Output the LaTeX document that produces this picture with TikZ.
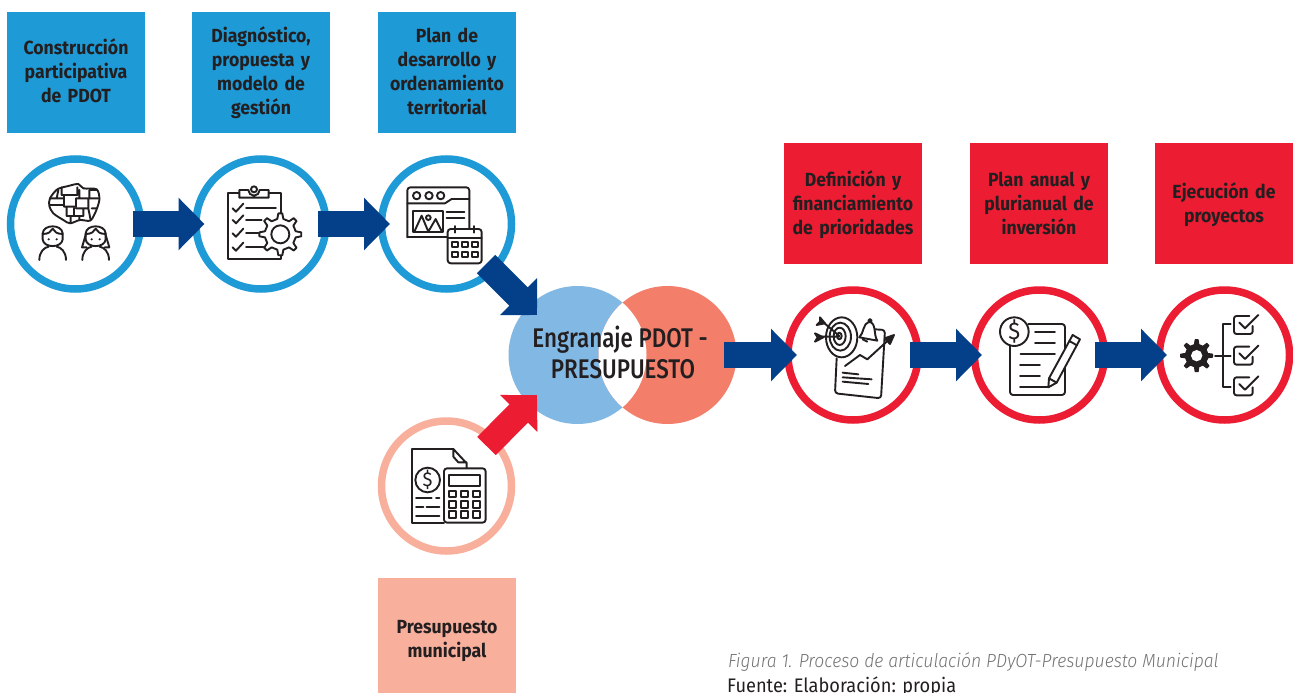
\documentclass[tikz,border=0pt]{standalone}
\usepackage{fontspec}
\setmainfont[FakeStretch=0.93]{Fira Sans}
\newfontfamily\capfont[FakeStretch=0.925]{Fira Sans Light}
\newfontfamily\medfont[FakeStretch=0.83]{Fira Sans Medium}
\usetikzlibrary{arrows.meta}
\definecolor{cblue}{HTML}{1E9AD6}
\definecolor{cred}{HTML}{EC1C33}
\definecolor{csalmon}{HTML}{F8B09C}
\definecolor{cnavy}{HTML}{04408A}
\definecolor{vblue}{HTML}{82B8E4}
\definecolor{vsalm}{HTML}{F37F6A}
\definecolor{ink}{HTML}{231F20}
\newcommand{\tb}[1]{\rule{0pt}{20pt}#1\rule[-7pt]{0pt}{7pt}}
\tikzset{
  titlebox/.style={minimum width=138pt,minimum height=121pt,inner sep=0pt,align=center,text=ink,text width=134pt,font=\fontsize{19}{24}\selectfont\bfseries},
  ring/.style={circle,draw=#1,line width=7.5pt,fill=white,minimum size=130pt,inner sep=0pt},
  venn/.style={circle,fill=#1,minimum size=138pt,inner sep=0pt},
  bigarrow/.style={draw=#1,line width=26pt,-{Triangle[length=26pt,width=51pt,fill=#1]}},
  ic/.style={draw=ink,line width=1.9pt,line join=round,line cap=round},
  icw/.style={ic,fill=white},
  zoomed/.style={x=0.33333pt,y=-0.33333pt},
}
\newcommand{\geargl}[6]{%
  \begin{scope}[shift={(#1,#2)}]
    \path[#6] ({-0.25*360/#5}:#4)
    \foreach \k in {1,...,#5}{
      -- ({(\k-1-0.12)*360/#5}:#3) -- ({(\k-1+0.12)*360/#5}:#3)
      -- ({(\k-1+0.25)*360/#5}:#4) -- ({(\k-0.25)*360/#5}:#4)
    } -- cycle;
  \end{scope}}
\begin{document}
\begin{tikzpicture}[x=1pt,y=-1pt]
\useasboundingbox (0,0) rectangle (1293,693);
\fill[white] (0,0) rectangle (1293,693);
% title boxes
\node[titlebox,fill=cblue] (b1) at (76,72.5) {\tb{Construcción\\participativa\\de PDOT}};
\node[titlebox,fill=cblue] (b2) at (261,72.5) {\tb{Diagnóstico,\\propuesta y\\modelo de\\gestión}};
\node[titlebox,fill=cblue] (b3) at (447,72.5) {\tb{Plan de\\desarrollo y\\ordenamiento\\territorial}};
\node[titlebox,fill=cred] (b4) at (853,203.5) {\tb{Definición y\\financiamiento\\de prioridades}};
\node[titlebox,fill=cred] (b5) at (1039,203.5) {\tb{Plan anual y\\plurianual de\\inversión}};
\node[titlebox,fill=cred] (b6) at (1224,203.5) {\tb{Ejecución de\\proyectos}};
\node[titlebox,fill=csalmon] (b7) at (447,638.5) {\tb{Presupuesto\\municipal}};
% rings
\node[ring=cblue] (c1) at (75.5,224) {};
\node[ring=cblue] (c2) at (261,224) {};
\node[ring=cblue] (c3) at (446.5,224) {};
\node[ring=csalmon] (c4) at (446.5,486) {};
\node[ring=cred] (c5) at (853,355) {};
\node[ring=cred] (c6) at (1039.5,355) {};
\node[ring=cred] (c7) at (1224.5,355) {};
% venn
\node[venn=vblue] (v1) at (577.5,355) {};
\node[venn=vsalm] (v2) at (667.5,355) {};
\begin{scope}
  \clip (577.5,355) circle (69);
  \fill[white] (667.5,355) circle (69);
\end{scope}
\node[font=\medfont\fontsize{27}{31}\selectfont,text=ink,align=center,inner sep=0pt] (vt) at (620,352.5) {Engranaje PDOT -\\\hspace*{6pt}PRESUPUESTO};
% icon 1
\begin{scope}[zoomed,shift={(0,450)}]
  \path[ic] plot[smooth cycle,tension=.5] coordinates {(150,145)(172,118)(205,108)(235,102)(250,115)(290,118)(298,150)(285,190)(270,212)(240,210)(210,220)(190,210)(160,190)(148,168)};
  \path[ic] (185,112)--(185,135)--(232,135)--(232,112) (238,120)--(238,145)--(268,145)--(268,120) (268,120)--(290,120)
    (192,135)--(192,170)--(228,170)--(228,145) (228,145)--(265,145)--(265,175)--(228,175)
    (150,145)--(192,145) (150,165)--(192,165) (175,120)--(170,145) (200,170)--(200,198)--(250,198)--(250,175)
    (222,175)--(222,198) (212,198)--(212,216) (238,198)--(238,210) (268,145)--(295,145) (275,175)--(290,175) (265,175)--(272,210);
  \foreach \cx in {158,287}{
    \path[ic] (\cx-40,330) .. controls (\cx-40,305) and (\cx-25,292) .. (\cx-12,290);
    \path[ic] (\cx+40,330) .. controls (\cx+40,305) and (\cx+25,292) .. (\cx+12,290);
    \path[ic] (\cx-30,250) .. controls (\cx-28,222) and (\cx+28,222) .. (\cx+30,250) -- (\cx+30,268) .. controls (\cx+28,295) and (\cx-28,295) .. (\cx-30,268) -- cycle;
    \path[ic] (\cx-30,252) .. controls (\cx-12,252) and (\cx-5,245) .. (\cx,236) .. controls (\cx+5,245) and (\cx+12,252) .. (\cx+30,252);
    \fill[ink] (\cx-12,268) circle (3.5) (\cx+12,268) circle (3.5);
  }
  \path[ic] (257,255)--(246,292)--(260,292) (317,255)--(328,292)--(314,292);
\end{scope}
% icon 2
\begin{scope}[zoomed,shift={(0,450)}]
  \path[ic] (718,128)--(683,128)--(683,328)--(842,328)--(842,128)--(806,128);
  \path[icw] (718,143)--(718,120)--(745,120) arc (180:0:17) --(806,120)--(806,143)--cycle;
  \path[ic] (762,118) circle (9);
  \foreach \yy/\xe in {178/828,213/785,253/775,295/790}{
    \path[ic] (698,\yy-3)--(708,\yy+7)--(730,\yy-17);
    \path[ic] (738,\yy-3)--(\xe,\yy-3);
  }
  \geargl{841}{253}{63}{47}{8}{icw}
  \path[ic] (841,253) circle (27);
\end{scope}
% icon 3
\begin{scope}[zoomed,shift={(1110,450)}]
  \path[ic,rounded corners=3pt] (112,262)--(112,112)--(298,112)--(298,240);
  \path[ic,rounded corners=3pt] (230,262)--(112,262);
  \foreach \bx in {140,177,212}{\path[ic] (\bx,137) circle (11);}
  \path[ic] (112,160)--(225,160)--(245,147)--(298,147);
  \path[ic] (130,182) rectangle (218,245);
  \path[ic] (133,245)--(155,197)--(175,245)--(197,207)--(216,245) (175,203) circle (7);
  \path[ic] (230,185)--(283,185) (230,205)--(283,205);
  \path[icw,rounded corners=3pt] (233,237) rectangle (335,340);
  \path[ic] (233,263)--(335,263) (255,228)--(255,248) (313,228)--(313,248);
  \foreach \bx in {245,275,305}\foreach \by in {275,307}{\path[ic] (\bx,\by) rectangle ++(18,15);}
\end{scope}
% icon 4
\begin{scope}[zoomed,shift={(1110,1200)}]
  \path[ic] (250,147)--(125,147)--(125,370)--(222,370);
  \path[ic] (250,147)--(290,190)--(290,205) (250,147)--(250,170)--(265,187)--(290,187);
  \path[icw] (173,240) circle (37);
  \node[font=\fontsize{20}{20}\selectfont,text=ink,inner sep=0pt] (d1) at (173,240) {\$};
  \path[ic] (138,295)--(185,295) (198,295)--(208,295) (138,320)--(160,320) (170,320)--(208,320) (138,347)--(208,347);
  \path[icw,rounded corners=3pt] (222,205) rectangle (347,368);
  \path[ic] (237,224) rectangle (330,257);
  \foreach \bx in {237,273,310}\foreach \by in {272,303,333}{\path[ic] (\bx,\by) rectangle ++(20,20);}
\end{scope}
% icon 5
\begin{scope}[zoomed,shift={(2340,840)}]
  \path[ic,rounded corners=3pt] (170,235)--(165,340)--(303,355)--(315,150)--(285,148);
  \path[icw] (185,172) ellipse [x radius=47,y radius=60];
  \path[ic] (181,170) ellipse [x radius=32,y radius=42];
  \path[ic] (179,169) ellipse [x radius=18,y radius=26];
  \path[ic] (178,168) ellipse [x radius=7,y radius=10];
  \path[ic] (118,170)--(178,170) (122,120)--(178,168);
  \path[ic,fill=ink] (105,160)--(130,172)--(105,185)--(113,172)--cycle;
  \path[ic,fill=ink] (120,112)--(135,130)--(110,135)--(120,125)--cycle;
  \path[icw] (238,172) .. controls (252,160) and (248,130) .. (268,125) .. controls (290,130) and (280,165) .. (292,182) -- cycle;
  \path[ic] (270,122) circle (5) (248,178) -- (262,185);
  \path[ic] (195,258)--(240,225)--(262,238)--(320,185);
  \path[ic,fill=ink] (314,175)--(342,165)--(330,192)--cycle;
  \path[ic] (188,278)--(235,283) (188,292)--(275,298) (188,305)--(265,312);
\end{scope}
% icon 6
\begin{scope}[zoomed,shift={(2340,840)}]
  \path[ic,rounded corners=3pt] (690,190)--(690,345)--(855,345)--(855,132)--(745,132);
  \path[icw] (703,155) circle (43);
  \node[font=\fontsize{24}{24}\selectfont,text=ink,inner sep=0pt] (d2) at (703,155) {\$};
  \path[ic] (765,155)--(825,155) (765,188)--(825,188) (722,222)--(825,222) (720,255)--(780,255) (720,288)--(780,288) (720,320)--(805,320);
  \path[icw,line join=round] (807,295)--(878,165)--(900,178)--(830,308)--(805,322)--cycle;
  \path[ic] (868,183)--(891,196) (807,295)--(830,308);
\end{scope}
% icon 7
\begin{scope}[zoomed,shift={(3270,840)}]
  \geargl{320}{227}{48}{34}{8}{fill=ink,draw=ink,line width=1pt,line join=round}
  \fill[white] (320,227) circle (17);
  \path[ic] (422,132)--(398,132)--(398,320)--(422,320) (375,227)--(422,227);
  \foreach \dy in {0,92,184}{
    \begin{scope}[shift={(0,\dy)}]
      \path[ic,rounded corners=2.5pt] (478,108)--(432,108)--(432,162)--(488,162)--(488,138);
      \path[ic] (448,128)--(465,145)--(505,105);
    \end{scope}
  }
\end{scope}
% arrows
\coordinate (a1s) at (133,224); \coordinate (a1e) at (204.5,224);
\coordinate (a2s) at (318,224); \coordinate (a2e) at (390,224);
\coordinate (a3s) at (486,264); \coordinate (a3e) at (537,315);
\coordinate (a4s) at (486.5,446); \coordinate (a4e) at (537,395);
\coordinate (a5s) at (724,355); \coordinate (a5e) at (797,355);
\coordinate (a6s) at (910,355); \coordinate (a6e) at (982,355);
\coordinate (a7s) at (1095,355); \coordinate (a7e) at (1167,355);
\draw[bigarrow=cnavy] (a1s) -- (a1e);
\draw[bigarrow=cnavy] (a2s) -- (a2e);
\draw[bigarrow=cnavy] (a5s) -- (a5e);
\draw[bigarrow=cnavy] (a6s) -- (a6e);
\draw[bigarrow=cnavy] (a7s) -- (a7e);
\draw[bigarrow=cnavy] (a3s) -- (a3e);
\draw[bigarrow=cred] (a4s) -- (a4e);
% caption
\node[anchor=west,inner sep=0pt,font=\capfont\itshape\fontsize{19}{22}\selectfont,text=black!55] (cap) at (728,662) {Figura 1. Proceso de articulación PDyOT-Presupuesto Municipal};
\node[anchor=west,inner sep=0pt,font=\fontsize{19.6}{22}\selectfont,text=ink] (src) at (727,687) {Fuente: Elaboración: propia};
\end{tikzpicture}
\end{document}
